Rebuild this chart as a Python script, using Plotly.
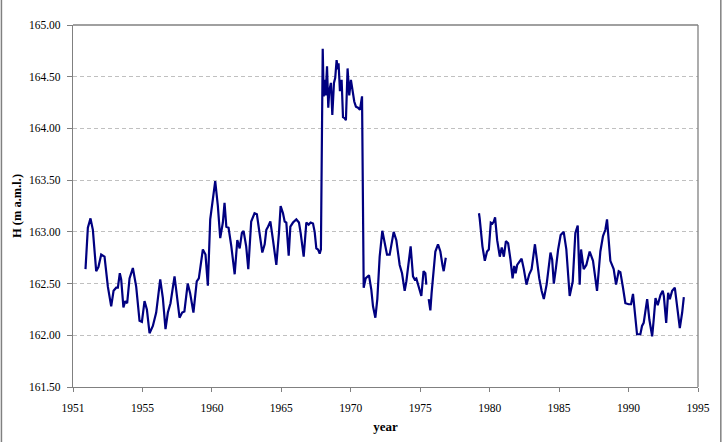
import plotly.graph_objects as go

# Water level H (m a.m.l.); None marks gaps in the record
year = [
    1950.90, 1951.07, 1951.26, 1951.43, 1951.67, 1951.83, 1952.03, 1952.27, 1952.51, 1952.75,
    1952.92, 1953.11, 1953.23, 1953.37, 1953.47, 1953.63, 1953.76, 1953.90, 1954.07, 1954.31,
    1954.55, 1954.79, 1954.96, 1955.15, 1955.32, 1955.51, 1955.75, 1955.99, 1956.28, 1956.47,
    1956.66, 1956.83, 1957.02, 1957.31, 1957.43, 1957.67, 1957.86, 1958.02, 1958.26, 1958.43,
    1958.67, 1958.91, 1959.06, 1959.35, 1959.54, 1959.71, 1959.88, 1960.12, 1960.24, 1960.43,
    1960.60, 1960.79, 1960.91, 1961.04, 1961.20, 1961.40, 1961.64, 1961.83, 1962.00, 1962.16,
    1962.28, 1962.47, 1962.62, 1962.83, 1963.07, 1963.24, 1963.44, 1963.63, 1963.80, 1963.92,
    1964.04, 1964.21, 1964.40, 1964.64, 1964.83, 1964.95, 1965.12, 1965.24, 1965.36, 1965.53,
    1965.65, 1965.84, 1966.08, 1966.27, 1966.39, 1966.61, 1966.80, 1966.97, 1967.11, 1967.28,
    1967.40, 1967.52, 1967.64, 1967.76, 1967.85, 1967.98, 1968.05, 1968.12, 1968.19, 1968.29,
    1968.38, 1968.45, 1968.57, 1968.67, 1968.79, 1968.88, 1968.98, 1969.07, 1969.12, 1969.22,
    1969.34, 1969.44, 1969.55, 1969.65, 1969.77, 1969.89, 1970.01, 1970.13, 1970.25, 1970.37,
    1970.52, 1970.66, 1970.81, 1970.93, 1971.07, 1971.31, 1971.48, 1971.60, 1971.77, 1971.91,
    1972.08, 1972.27, 1972.44, 1972.61, 1972.80, 1973.09, 1973.28, 1973.52, 1973.69, 1973.88,
    1974.00, 1974.12, 1974.31, 1974.48, 1974.60, 1974.72, 1974.89, 1975.08, 1975.24, 1975.37,
    1975.44, 1975.52, 1975.61, 1975.73, 1975.82, 1975.92, 1976.09, 1976.28, 1976.45, 1976.60,
    1976.69, 1976.84, 1978.00, 1979.23, 1979.28, 1979.48, 1979.65, 1979.81, 1979.94, 1980.08,
    1980.20, 1980.30, 1980.39, 1980.54, 1980.73, 1980.87, 1981.02, 1981.17, 1981.33, 1981.50,
    1981.65, 1981.77, 1981.87, 1981.98, 1982.17, 1982.30, 1982.46, 1982.65, 1982.85, 1983.02,
    1983.26, 1983.42, 1983.57, 1983.74, 1983.90, 1984.10, 1984.38, 1984.50, 1984.62, 1984.77,
    1984.93, 1985.11, 1985.33, 1985.52, 1985.76, 1985.98, 1986.17, 1986.34, 1986.48, 1986.58,
    1986.77, 1986.96, 1987.20, 1987.44, 1987.73, 1987.97, 1988.16, 1988.33, 1988.45, 1988.57,
    1988.69, 1988.93, 1989.10, 1989.29, 1989.41, 1989.60, 1989.77, 1990.01, 1990.18, 1990.32,
    1990.44, 1990.61, 1990.85, 1990.97, 1991.09, 1991.21, 1991.34, 1991.50, 1991.70, 1991.81,
    1991.94, 1992.10, 1992.30, 1992.46, 1992.54, 1992.71, 1992.85, 1992.97, 1993.14, 1993.33,
    1993.50, 1993.69, 1993.86, 1993.98,
]
level = [
    162.64, 163.04, 163.13, 163.02, 162.62, 162.66, 162.78, 162.76, 162.47, 162.28,
    162.43, 162.46, 162.46, 162.60, 162.54, 162.27, 162.33, 162.31, 162.55, 162.65,
    162.47, 162.14, 162.13, 162.33, 162.25, 162.02, 162.09, 162.22, 162.54, 162.36,
    162.06, 162.22, 162.31, 162.57, 162.44, 162.17, 162.22, 162.23, 162.50, 162.41,
    162.22, 162.52, 162.55, 162.83, 162.78, 162.48, 163.12, 163.41, 163.49, 163.25,
    162.94, 163.09, 163.28, 163.05, 163.04, 162.86, 162.59, 162.92, 162.84, 162.99,
    163.01, 162.86, 162.64, 163.10, 163.18, 163.17, 162.96, 162.80, 162.88, 163.02,
    163.05, 163.10, 162.92, 162.68, 162.99, 163.25, 163.18, 163.10, 163.09, 162.77,
    163.05, 163.09, 163.12, 163.09, 162.99, 162.76, 163.09, 163.07, 163.09, 163.08,
    163.00, 162.84, 162.83, 162.79, 162.83, 164.77, 164.31, 164.47, 164.32, 164.60,
    164.20, 164.36, 164.44, 164.13, 164.44, 164.49, 164.66, 164.57, 164.63, 164.36,
    164.47, 164.11, 164.10, 164.08, 164.58, 164.32, 164.47, 164.37, 164.26, 164.21,
    164.20, 164.18, 164.31, 162.46, 162.55, 162.58, 162.44, 162.28, 162.17, 162.35,
    162.76, 163.01, 162.89, 162.78, 162.78, 163.00, 162.92, 162.68, 162.60, 162.43,
    162.52, 162.67, 162.86, 162.57, 162.54, 162.55, 162.46, 162.38, 162.62, 162.60,
    162.49, None, 162.35, 162.24, 162.41, 162.57, 162.81, 162.88, 162.81, 162.68,
    162.62, 162.75, None, 163.18, 163.13, 162.86, 162.72, 162.81, 162.83, 163.09,
    163.08, 163.10, 163.14, 162.92, 162.76, 162.85, 162.76, 162.91, 162.89, 162.73,
    162.55, 162.67, 162.60, 162.68, 162.72, 162.74, 162.64, 162.49, 162.59, 162.64,
    162.88, 162.70, 162.55, 162.43, 162.35, 162.49, 162.80, 162.73, 162.50, 162.65,
    162.83, 162.97, 163.00, 162.83, 162.38, 162.52, 162.99, 163.06, 162.49, 162.83,
    162.64, 162.68, 162.81, 162.72, 162.43, 162.81, 162.96, 163.02, 163.12, 162.92,
    162.72, 162.64, 162.49, 162.62, 162.61, 162.46, 162.31, 162.30, 162.30, 162.40,
    162.22, 162.01, 162.01, 162.09, 162.12, 162.22, 162.35, 162.15, 161.99, 162.15,
    162.36, 162.29, 162.39, 162.43, 162.38, 162.12, 162.41, 162.35, 162.43, 162.46,
    162.30, 162.07, 162.22, 162.37,
]

x_tickvals = [1950, 1955, 1960, 1965, 1970, 1975, 1980, 1985, 1990, 1995]
x_ticktext = ["1951", "1955", "1960", "1965", "1970", "1975", "1980", "1985", "1990", "1995"]
y_tickvals = [161.5, 162.0, 162.5, 163.0, 163.5, 164.0, 164.5, 165.0]

FONT = "Liberation Serif"

fig = go.Figure()
fig.add_trace(go.Scatter(
    x=year, y=level, mode="lines",
    line=dict(color="#000080", width=2.2),
    connectgaps=False, hoverinfo="x+y", showlegend=False,
))

fig.update_layout(
    width=726, height=442,
    margin=dict(l=73, r=28, t=25, b=55),
    paper_bgcolor="white", plot_bgcolor="white",
    font=dict(family=FONT, size=12, color="black"),
    xaxis=dict(
        range=[1950, 1995], tickvals=x_tickvals, ticktext=x_ticktext,
        automargin=False,
        showgrid=False, zeroline=False,
        showline=True, linecolor="#808080", linewidth=1.3, mirror=False,
        ticks="outside", ticklen=4, tickcolor="#808080", tickwidth=1,
        ticklabelstandoff=6,
        tickfont=dict(family=FONT, size=11.5),
        title=dict(text="<b>year</b>", font=dict(family=FONT, size=13), standoff=8),
    ),
    yaxis=dict(
        range=[161.5, 165.0], tickvals=y_tickvals, tickformat=".2f",
        automargin=False,
        showgrid=True, gridcolor="#c0c0c0", gridwidth=1, griddash="4px,3px",
        zeroline=False,
        showline=True, linecolor="#808080", linewidth=1.3,
        ticks="outside", ticklen=5, tickcolor="#808080", tickwidth=1,
        ticklabelstandoff=4,
        tickfont=dict(family=FONT, size=11.5),
        title=dict(text="<b>H (m a.m.l.)</b>", font=dict(family=FONT, size=12.5), standoff=4),
    ),
    shapes=[
        # plot-area top and right border
        dict(type="line", xref="paper", yref="paper", x0=0, x1=1, y0=1, y1=1,
             line=dict(color="#808080", width=1.3)),
        dict(type="line", xref="paper", yref="paper", x0=1, x1=1, y0=0, y1=1,
             line=dict(color="#808080", width=1.3)),
        # chart-area border (left and right edges)
        dict(type="line", xref="paper", yref="paper", x0=-0.1145, x1=-0.1145, y0=-0.16, y1=1.08,
             line=dict(color="#808080", width=1.5)),
        dict(type="line", xref="paper", yref="paper", x0=1.0365, x1=1.0365, y0=-0.16, y1=1.08,
             line=dict(color="#808080", width=1.5)),
    ],
)

fig.write_html(
    "out.html",
    config={"displayModeBar": False},
    post_script="document.body.style.margin='0';document.body.style.overflow='hidden';",
)
